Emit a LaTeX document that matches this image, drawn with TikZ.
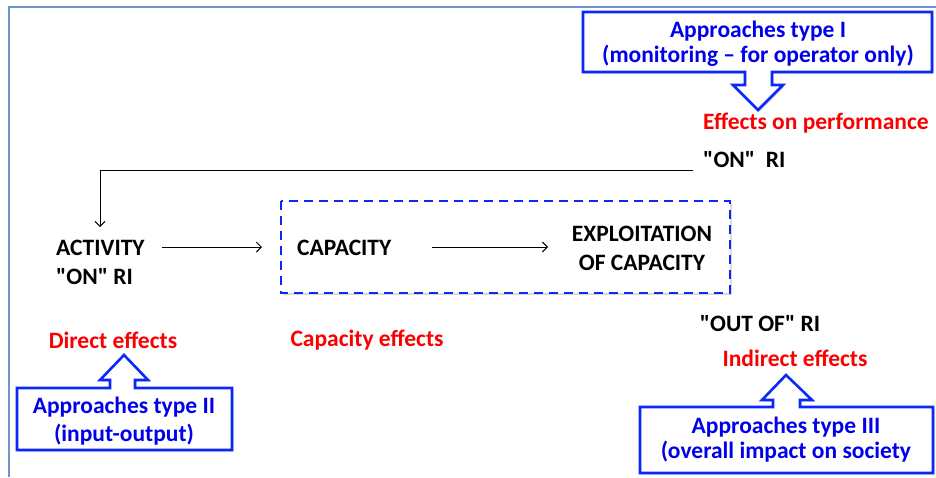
\documentclass[tikz,border=0pt]{standalone}
\usepackage{fontspec}
\setmainfont{Carlito}
\usetikzlibrary{arrows.meta,shadows}
\definecolor{framec}{RGB}{110,150,205}
\definecolor{callb}{RGB}{10,40,250}
\definecolor{txtb}{RGB}{0,0,235}
\definecolor{txtr}{RGB}{250,0,0}
\newcommand{\qq}{\textquotedbl}
\tikzset{
  blk/.style={font=\bfseries\fontsize{23.5}{29}\selectfont, text=black, align=center, inner sep=0pt},
  red/.style={font=\bfseries\fontsize{23.5}{29}\selectfont, text=txtr, inner sep=0pt},
  bl/.style={font=\bfseries\fontsize{23.5}{25}\selectfont, text=txtb, align=center, inner sep=0pt},
  callout/.style={draw=callb, line width=2.6pt, fill=white, line join=miter,
     drop shadow={shadow xshift=1.5pt, shadow yshift=-1.5pt, opacity=0.35, fill=gray}},
  conn/.style={draw=black, line width=0.9pt, -{Straight Barb[length=5pt,width=10pt,line width=0.9pt]}},
}
\begin{document}
\begin{tikzpicture}[x=1pt,y=-1pt]
\useasboundingbox (0,0) rectangle (936,477);
% frame
\draw[framec, line width=2.2pt] (9,477) -- (9,7) -- (936,7);

% dashed capacity box
\draw[draw=callb, line width=2.6pt, dash pattern=on 9pt off 6pt, fill=white,
  drop shadow={shadow xshift=1.5pt, shadow yshift=-1.5pt, opacity=0.3, fill=gray}]
  (281,201) rectangle (730,293);

% callout I
\filldraw[callout] (583,12) -- (932,12) -- (932,72) -- (772,72) -- (772,85) -- (783,85)
  -- (758,110) -- (733,85) -- (745,85) -- (745,72) -- (583,72) -- cycle;
% callout II
\filldraw[callout] (17,450) -- (232,450) -- (232,388) -- (135,388) -- (135,380) -- (148,380)
  -- (124,355) -- (100,380) -- (110,380) -- (110,388) -- (17,388) -- cycle;
% callout III
\filldraw[callout] (640,473) -- (933,473) -- (933,407) -- (800,407) -- (800,400) -- (812,400)
  -- (786,375) -- (762,400) -- (773,400) -- (773,407) -- (640,407) -- cycle;

% texts
\node[bl] (t1) at (758,44) {Approaches type I\\(monitoring -- for operator only)};
\node[bl] (t2) at (124,421) {Approaches type II\\[3pt](input-output)};
\node[bl] (t3) at (786,440) {Approaches type III\\(overall impact on society};

\node[red, anchor=west] (perf) at (703,123) {Effects on performance};
\node[blk, anchor=west] (onri) at (703,160) {\qq ON\qq\ \ RI};
\node[blk, anchor=west, align=left] (act) at (56,262) {ACTIVITY\\\qq ON\qq\ RI};
\node[blk, anchor=west] (cap) at (297,248) {CAPACITY};
\node[blk] (expl) at (642,248) {EXPLOITATION\\OF CAPACITY};
\node[blk] (out) at (760,324) {\qq OUT OF\qq\ RI};
\node[red] (dir) at (113,340) {Direct effects};
\node[red] (cape) at (367,340) {Capacity effects};
\node[red] (ind) at (795,358) {Indirect effects};

% connectors
\coordinate (fbs) at (693,170);
\coordinate (fbc) at (100,170);
\coordinate (fbe) at (100,227);
\coordinate (a1s) at (162,247);
\coordinate (a1e) at (262,247);
\coordinate (a2s) at (432,247);
\coordinate (a2e) at (548,247);
\draw[conn] (fbs) -- (fbc) -- (fbe);
\draw[conn] (a1s) -- (a1e);
\draw[conn] (a2s) -- (a2e);
\end{tikzpicture}
\end{document}
